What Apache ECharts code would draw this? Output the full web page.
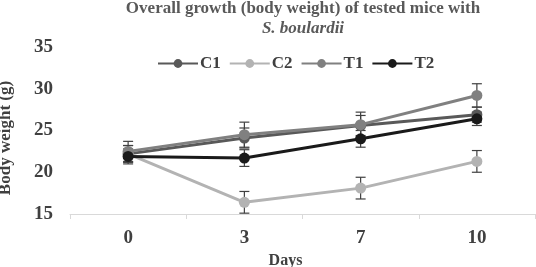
<!DOCTYPE html>
<html><head><meta charset="utf-8">
<script src="https://cdn.jsdelivr.net/npm/echarts@6/dist/echarts.min.js"></script>
<style>html,body{margin:0;padding:0;background:#fff}#c{width:536px;height:267px}</style>
</head><body><div id="c"></div>
<script>
var days = ['0', '3', '7', '10'];
var seriesNames = ['C1', 'C2', 'T1', 'T2'];
var C1 = [22.2, 24.1, 25.6, 26.9];
var C2 = [22.2, 16.4, 18.1, 21.3];
var T1 = [22.5, 24.5, 25.7, 29.2];
var T2 = [21.9, 21.7, 24.0, 26.4];
var C1err = [1.0, 1.2, 1.2, 0.9];
var C2err = [1.0, 1.3, 1.3, 1.3];
var T1err = [1.2, 1.5, 1.5, 1.4];
var T2err = [0.9, 1.0, 1.0, 0.8];
var yTicks = [15, 20, 25, 30, 35];

var values = [C1, C2, T1, T2];
var errs = [C1err, C2err, T1err, T2err];
var colors = ['#595959', '#b3b3b3', '#808080', '#1a1a1a'];
var font = 'Liberation Serif';

var series = [];
values.forEach(function (v, i) {
  var ed = v.map(function (y, k) { return [k, y - errs[i][k], y + errs[i][k]]; });
  series.push({
    type: 'custom', name: seriesNames[i] + 'err', silent: true, z: 1,
    renderItem: function (params, api) {
      var lo = api.coord([api.value(0), api.value(1)]);
      var hi = api.coord([api.value(0), api.value(2)]);
      var w = 5;
      var st = { stroke: '#404040', lineWidth: 1.2 };
      return { type: 'group', children: [
        { type: 'line', shape: { x1: hi[0], y1: hi[1], x2: lo[0], y2: lo[1] }, style: st },
        { type: 'line', shape: { x1: hi[0] - w, y1: hi[1], x2: hi[0] + w, y2: hi[1] }, style: st },
        { type: 'line', shape: { x1: lo[0] - w, y1: lo[1], x2: lo[0] + w, y2: lo[1] }, style: st }
      ]};
    },
    data: ed
  });
});
values.forEach(function (v, i) {
  series.push({
    type: 'line', name: seriesNames[i], data: v, z: 2 + i,
    symbol: 'circle', symbolSize: 11,
    lineStyle: { color: colors[i], width: 3 },
    itemStyle: { color: colors[i] }
  });
});

var chart = echarts.init(document.getElementById('c'));
chart.setOption({
  animation: false,
  title: {
    text: '{a|Overall growth (body weight) of tested mice with}\n{b|S. boulardii}',
    left: 303, top: -1, textAlign: 'center', padding: 0,
    textStyle: {
      rich: {
        a: { fontFamily: font, fontWeight: 'bold', fontSize: 17, color: '#595959', lineHeight: 20, align: 'center' },
        b: { fontFamily: font, fontWeight: 'bold', fontStyle: 'italic', fontSize: 17, color: '#595959', lineHeight: 20, align: 'center' }
      }
    }
  },
  legend: {
    data: seriesNames, top: 55, left: 157, itemWidth: 40, itemHeight: 11, itemGap: 8,
    padding: 0,
    textStyle: { fontFamily: font, fontWeight: 'bold', fontSize: 17, color: '#404040', padding: [0, 0, 0, -3] }
  },
  grid: { left: 70, right: 1, top: 47, bottom: 53, outerBoundsMode: 'none', containLabel: false },
  xAxis: {
    type: 'category', data: days, boundaryGap: true,
    name: 'Days', nameLocation: 'middle', nameGap: 35,
    nameTextStyle: { fontFamily: font, fontWeight: 'bold', fontSize: 16, color: '#404040', padding: [0, 34, 0, 0] },
    axisLine: { lineStyle: { color: '#d9d9d9', width: 1 } },
    axisTick: { show: true, length: 5, lineStyle: { color: '#d9d9d9' } },
    axisLabel: { fontFamily: font, fontWeight: 'bold', fontSize: 19, color: '#404040', margin: 15 }
  },
  yAxis: {
    type: 'value', min: yTicks[0], max: yTicks[yTicks.length - 1], interval: 5,
    name: 'Body weight (g)', nameLocation: 'middle', nameGap: 56,
    nameTextStyle: { fontFamily: font, fontWeight: 'bold', fontSize: 17, color: '#404040', padding: [0, 15, 0, 0] },
    axisLine: { show: false }, axisTick: { show: false }, splitLine: { show: false },
    axisLabel: { fontFamily: font, fontWeight: 'bold', fontSize: 19, color: '#404040', margin: 17 }
  },
  series: series
});
</script></body></html>
